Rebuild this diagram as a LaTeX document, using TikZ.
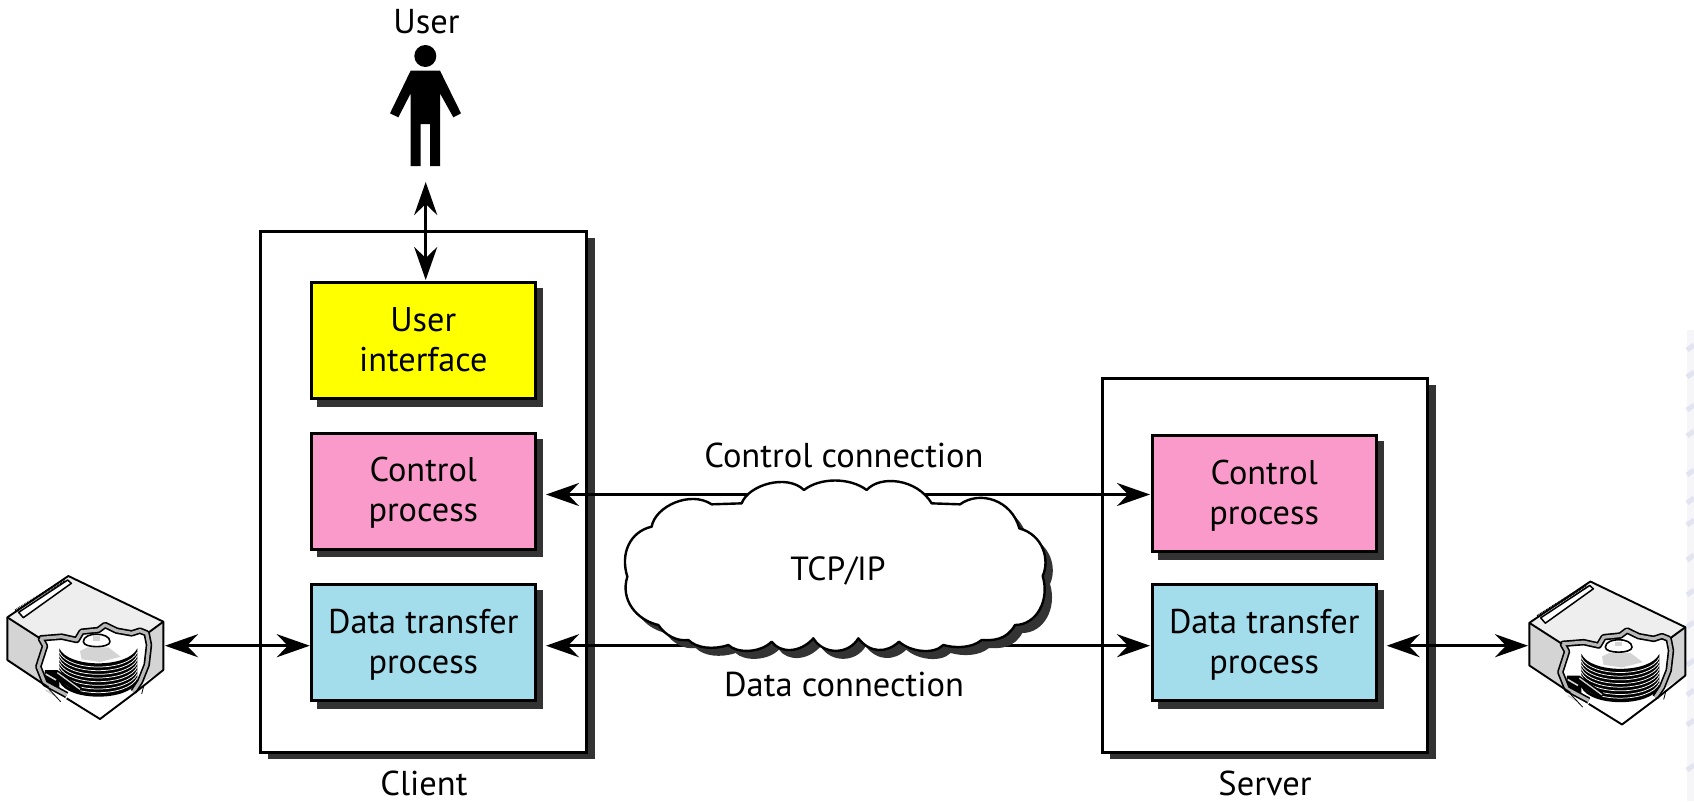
\documentclass[tikz,border=0pt]{standalone}
\usepackage{fontspec}
\setmainfont{PT Sans}
\usetikzlibrary{arrows.meta}
\definecolor{shad}{HTML}{333333}
\definecolor{ylw}{HTML}{FFFF00}
\definecolor{pnk}{HTML}{F99ACB}
\definecolor{blu}{HTML}{A3DCEB}
\definecolor{facelt}{HTML}{EEEEEE}
\definecolor{facedk}{HTML}{D4D4D4}
\definecolor{bandgr}{HTML}{B8B8B8}
\newcommand{\twolines}[2]{\makebox[0pt][c]{\smash{\raisebox{9.5pt}{#1}}}\makebox[0pt][c]{\smash{\raisebox{-30.5pt}{#2}}}}
\tikzset{
  sysbox/.style={draw=black,line width=3pt,fill=white,inner sep=0pt},
  procbox/.style={font=\fontsize{34.3}{40}\selectfont,text=black,inner sep=0pt,draw=black,line width=3pt,minimum width=224pt,minimum height=116pt},
  lbl/.style={font=\fontsize{34.5}{36}\selectfont,text=black,inner sep=0pt,anchor=base},
  link/.style={line width=3.2pt,{Stealth[length=33pt,width=23pt,inset=11pt]}-{Stealth[length=33pt,width=23pt,inset=11pt]}},
  cloudline/.style={line width=2.4pt,line join=round},
  disk/.pic={
    \begin{scope}[x=0.33333pt,y=-0.33333pt,line join=round]
      % body silhouette
      \fill[white] (22,142)--(205,18)--(490,155)--(490,300)--(300,447)--(22,270)--cycle;
      \fill[facelt] (22,142)--(205,18)--(490,155)--(445,188)--(420,180)--(395,190)--(350,182)--(315,165)--(295,180)--(245,185)--(230,210)--(185,197)--(120,205)--cycle;
      \fill[facedk] (22,142)--(120,205)--(135,230)--(112,285)--(125,325)--(145,352)--(22,270)--cycle;
      \fill[facedk] (490,155)--(445,188)--(452,225)--(445,285)--(425,340)--(490,300)--cycle;
      % platter stack
      \fill[black] (178,235) -- (178,335) .. controls (205,395) and (385,395) .. (412,335) -- (412,235) .. controls (385,295) and (205,295) .. (178,235) --cycle;
      \foreach \k in {1,2,...,8}{
        \draw[white,line width=0.75pt] (178,{235+\k*11}) .. controls (205,{295+\k*11}) and (385,{295+\k*11}) .. (412,{235+\k*11});
      }
      \fill[facedk] (240,243)--(262,232)--(325,232)--(362,260)--(300,276)--(245,268)--cycle;
      \draw[black,line width=1.6pt,fill=white] (250,215) .. controls (250,185) and (330,185) .. (330,215) .. controls (330,235) and (250,235) .. (250,215) --cycle;
      \fill[facedk] (280,198)--(300,198)--(300,212)--(280,212)--cycle;
      % actuator comb
      \fill[black] (135,300)--(172,300)--(245,352)--(238,370)--(178,335)--(178,368)--(198,385)--(130,340)--cycle;
      \foreach \k in {0,1,2}{
        \draw[facedk,line width=1.6pt] (137,{312+\k*24}) -- (168,{330+\k*24});
      }
      \draw[facedk,line width=1.3pt] (172,308) -- (240,358);
      % cut-out band
      \def\bandA{(200,375)--(135,340)--(115,290)--(135,228)--(122,205)--(185,200)--(230,210)--(245,185)--(295,180)--(315,165)--(350,182)--(395,190)--(420,182)--(440,190)--(447,225)--(440,285)--(420,335)--(400,365)}
      \draw[black,line width=6.5pt] \bandA;
      \draw[bandgr,line width=3.2pt] \bandA;
      % stray lines
      \draw[black,line width=0.8pt] (140,350)--(182,395) (432,345)--(425,372);
      % outlines
      \draw[black,line width=1.9pt] (145,352)--(22,270)--(22,142)--(205,18)--(490,155)--(490,300)--(405,368) (200,385)--(300,447)--(405,368);
      \draw[black,line width=1.9pt] (22,142)--(120,205) (490,155)--(445,188);
      % connector slot
      \draw[black,line width=1.5pt,fill=white] (56,127)--(203,30)--(214,40)--(70,143)--cycle;
      \draw[black,line width=2.6pt,dash pattern=on 0.9pt off 0.9pt] (46,122)--(193,30);
    \end{scope}
  }
}
\begin{document}
\begin{tikzpicture}[x=1pt,y=-1pt]
  \useasboundingbox (0,0) rectangle (1694,801);
  \fill[white] (0,0) rectangle (1694,801);
  % faint watermark at the right edge
  \fill[blue!20!gray!6] (1687,330) rectangle (1694,801);
  \foreach \yy in {345,372,405,431,470,498,520,555,590,622,660,690,720,765}{
    \draw[blue!30!gray!16,line width=5pt] (1687,\yy+5) -- (1694,\yy);
  }
  % system boxes with shadows
  \fill[shad] (268,238) rectangle (595,759);
  \node[sysbox,minimum width=326pt,minimum height=521pt] (client) at (423.5,491.5) {};
  \fill[shad] (1110,385) rectangle (1436,759);
  \node[sysbox,minimum width=325pt,minimum height=374pt] (server) at (1264.5,565) {};
  % process boxes
  \fill[shad] (317,288) rectangle (543,407);
  \node[procbox,fill=ylw] (ui) at (423.3,340.5) {\twolines{User}{interface}};
  \fill[shad] (317,439) rectangle (543,557);
  \node[procbox,fill=pnk] (cc) at (423.3,491) {\twolines{Control}{process}};
  \fill[shad] (317,590) rectangle (543,709);
  \node[procbox,fill=blu] (dc) at (423.3,642.5) {\twolines{Data transfer}{process}};
  \fill[shad] (1158,441) rectangle (1384,560);
  \node[procbox,fill=pnk] (cs) at (1264.2,493.5) {\twolines{Control}{process}};
  \fill[shad] (1158,590) rectangle (1384,709);
  \node[procbox,fill=blu] (ds) at (1264.2,642.5) {\twolines{Data transfer}{process}};
  % labels
  \node[lbl] (luser) at (426.5,33) {User};
  \node[lbl] (lclient) at (424,795) {Client};
  \node[lbl] (lserver) at (1265,795) {Server};
  \node[lbl] (lctl) at (844,467) {Control connection};
  \node[lbl] (ldat) at (844,696) {Data connection};
  % person
  \begin{scope}[shift={(340,0)},x=0.33333pt,y=-0.33333pt]
    \fill[black] (256,168) circle[radius=11pt];
    \fill[black] (212,212)--(300,212)--(363,340)--(340,352)--(300,280)--(300,498)--(270,498)--(270,372)--(242,372)--(242,498)--(212,498)--(212,280)--(175,352)--(150,340)--cycle;
  \end{scope}
  \coordinate (person) at (425.7,182);
  % disks
  \pic at (0,570) {disk};
  \pic at (1522,575.5) {disk};
  \coordinate (diskL) at (165,645.7);
  \coordinate (diskR) at (1528,645.7);
  \coordinate (cL) at (546,494.5);
  \coordinate (cR) at (1150,494.5);
  \coordinate (dL) at (546,645.7);
  \coordinate (dR) at (1150,645.7);
  \coordinate (uiTop) at (425.7,280);
  % connectors
  \draw[link] (person) -- (uiTop);
  \draw[link] (diskL) -- (dc.west |- diskL);
  \draw[link] (ds.east |- diskR) ++(9,0) coordinate (dsOut) (dsOut) -- (diskR);
  \draw[link] (cL) -- (cR);
  \draw[link] (dL) -- (dR);
  % cloud
  \begin{scope}[shift={(600,470)},x=0.33333pt,y=-0.33333pt]
    \def\cloudpath{(155,170) .. controls (165,110) and (270,60) .. (335,103) -- (425,100) .. controls (445,45) and (560,10) .. (612,60) .. controls (660,22) and (750,22) .. (800,60) .. controls (840,15) and (950,25) .. (995,100) -- (1080,103) .. controls (1140,60) and (1235,90) .. (1258,175) .. controls (1330,195) and (1350,270) .. (1328,318) .. controls (1350,390) and (1310,465) .. (1245,465) .. controls (1220,510) and (1180,512) .. (1145,510) .. controls (1115,535) and (1065,535) .. (1030,525) .. controls (1000,555) and (930,545) .. (897,515) .. controls (860,550) and (810,550) .. (775,505) .. controls (745,555) and (670,555) .. (640,505) .. controls (600,550) and (540,550) .. (515,515) .. controls (480,550) and (410,550) .. (385,525) .. controls (340,540) and (290,535) .. (265,510) .. controls (230,515) and (195,495) .. (175,465) .. controls (110,450) and (60,390) .. (82,320) .. controls (60,250) and (90,185) .. (155,170) -- cycle}
    \fill[shad,shift={(22,24)}] \cloudpath;
    \filldraw[cloudline,draw=black,fill=white] \cloudpath;
  \end{scope}
  \node[lbl,font=\fontsize{33.5}{36}\selectfont] (ltcp) at (838,580) {TCP/IP};
\end{tikzpicture}
\end{document}
